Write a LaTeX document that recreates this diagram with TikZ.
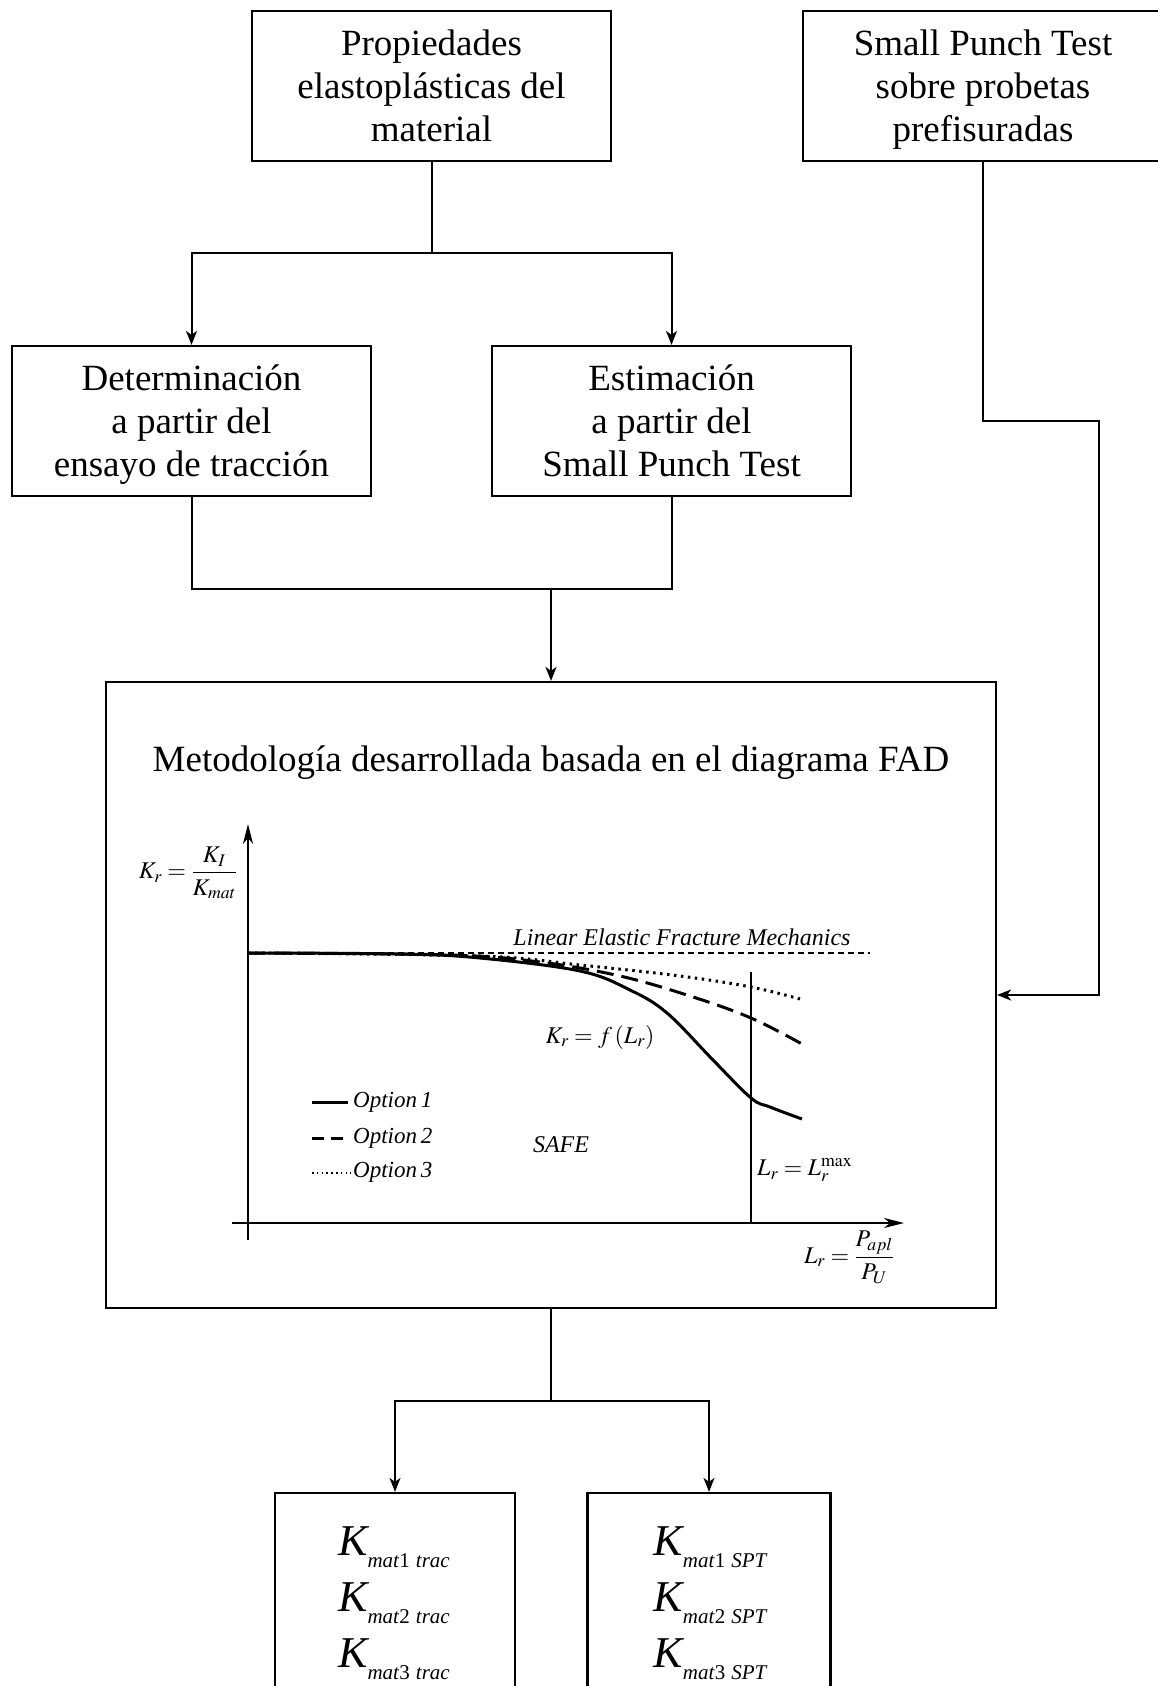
\documentclass[tikz,border=0pt]{standalone}
\usepackage{mathptmx}
\usepackage[no-math]{fontspec}
\setmainfont{Liberation Serif}
\usepackage{tikz}
\usetikzlibrary{arrows.meta}

\newcommand{\kmat}[2]{{\itshape K}\raisebox{-12pt}{\fontsize{21}{25}\selectfont\itshape mat\/\upshape #1\hspace{6pt}\itshape #2}}
\newcommand{\firstline}{\rule{0pt}{34pt}}
\newcommand{\lastline}{\rule[-9pt]{0pt}{9pt}}

\tikzset{
  box/.style={draw, line width=2.2pt, minimum width=359pt, minimum height=150pt, inner sep=0pt, align=center, font=\fontsize{37}{43}\selectfont},
  link/.style={line width=2pt},
  arrow/.style={link, -{Stealth[length=14pt, width=11pt, inset=4pt]}},
  axis/.style={line width=2pt, -{Stealth[length=20pt, width=10pt, inset=6pt]}},
  lbl/.style={font=\fontsize{24}{28}\selectfont},
  opt/.style={anchor=base west, inner sep=0pt, font=\fontsize{23}{27}\selectfont\itshape},
  kstack/.style={inner sep=0pt, align=center, font=\fontsize{44}{56}\selectfont},
}

\begin{document}
\begin{tikzpicture}[x=1pt, y=-1pt]
  \useasboundingbox (0, 0) rectangle (1157, 1686);

  \node [box] (props) at (431.5, 86) {\firstline Propiedades\\elastoplásticas del\\material\lastline};
  \node [box, minimum width=360pt] (spt) at (983, 86) {\firstline Small Punch Test\\sobre probetas\\prefisuradas\lastline};
  \node [box] (trac) at (191.5, 421) {\firstline Determinación\\a partir del\\ensayo de tracción\lastline};
  \node [box] (est) at (671.5, 421) {\firstline Estimación\\a partir del\\Small Punch Test\lastline};
  \node [draw, line width=2.2pt, minimum width=890pt, minimum height=626pt] (fad) at (551, 995) {};
  \node [font=\fontsize{37}{43}\selectfont] (title) at (551, 763) {Metodología desarrollada basada en el diagrama FAD};
  \node [draw, line width=2.2pt, minimum width=240pt, minimum height=210pt] (ktrac) at (395, 1598) {};
  \node [draw, line width=2.2pt, minimum width=243pt, minimum height=210pt] (kspt) at (709, 1598) {};
  \node [kstack] (ktractxt) at (394, 1603) {\kmat{1}{trac}\\\kmat{2}{trac}\\\kmat{3}{trac}};
  \node [kstack] (kspttxt) at (710, 1603) {\kmat{1}{SPT}\\\kmat{2}{SPT}\\\kmat{3}{SPT}};

  \coordinate (j1) at (431.5, 253);
  \coordinate (j2) at (551, 589);
  \coordinate (j3) at (551, 1401);
  \coordinate (r1) at (1099, 421);

  \draw [link] (props.south) -- (j1);
  \draw [arrow] (j1) -| (trac.north);
  \draw [arrow] (j1) -| (est.north);
  \draw [link] (trac.south) |- (j2) -| (est.south);
  \draw [arrow] (j2) -- (fad.north);
  \draw [arrow] (spt.south) |- (r1) |- (fad.east);
  \draw [link] (fad.south) -- (j3);
  \draw [arrow] (j3) -| (ktrac.north);
  \draw [arrow] (j3) -| (kspt.north);

  % failure assessment diagram
  \draw [axis] (248, 1240) -- (248, 824);
  \draw [axis] (232, 1223) -- (904, 1223);
  \draw [line width=1.3pt, dash pattern=on 6pt off 4pt] (248, 953) -- (870, 953);
  \draw [line width=1.5pt] (751, 972) -- (751, 1223);
  \draw [line width=3pt, dash pattern=on 2.5pt off 4.5pt] plot [smooth, tension=0.6] coordinates {(248, 953) (480, 956) (580, 965) (680, 976) (751, 987) (800, 999)};
  \draw [line width=3pt, dash pattern=on 17pt off 8pt] plot [smooth, tension=0.6] coordinates {(248, 953) (450, 955) (540, 962) (620, 976) (690, 996) (751, 1018) (802, 1044)};
  \draw [line width=3pt] plot [smooth, tension=0.6] coordinates {(248, 953) (400, 954) (480, 958) (580, 971) (630, 990) (667, 1013) (713, 1060) (751, 1098) (770, 1107) (802, 1119)};

  \node [lbl, font=\fontsize{24}{28}\selectfont\itshape] (lefm) at (682, 937) {Linear Elastic Fracture Mechanics};
  \node [lbl] (kf) at (600, 1037) {$K_r = f\,(L_r)$};
  \node [lbl, font=\fontsize{24}{28}\selectfont\itshape] (safe) at (561, 1145) {SAFE};
  \node [lbl, anchor=west, inner sep=0pt] (lmax) at (757, 1170) {$L_r = L_r^{\mathrm{max}}$};
  \node [lbl] (ylab) at (188, 873) {$\displaystyle K_r = \frac{K_I}{K_{mat}}$};
  \node [lbl, inner sep=0pt] (xlab) at (849, 1257) {$\displaystyle L_r = \frac{P_{apl}}{P_U}$};

  \draw [line width=3pt] (312, 1102) -- (348, 1102);
  \draw [line width=3pt, dash pattern=on 12pt off 7pt] (312, 1138) -- (349, 1138);
  \draw [line width=1.6pt, dash pattern=on 1.6pt off 3.2pt] (312, 1173) -- (351, 1173);
  \node [opt] (o1) at (353, 1107) {Option\,1};
  \node [opt] (o2) at (353, 1143) {Option\,2};
  \node [opt] (o3) at (353, 1177) {Option\,3};
\end{tikzpicture}
\end{document}
